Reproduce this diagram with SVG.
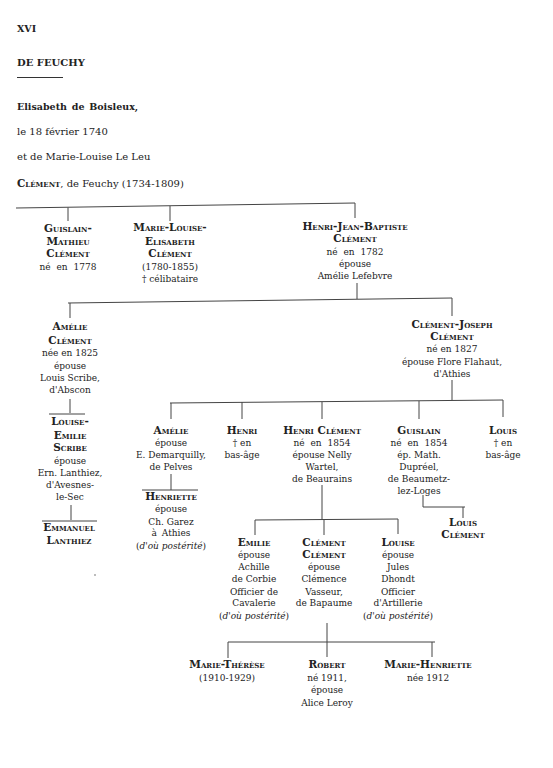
<svg xmlns="http://www.w3.org/2000/svg" width="553" height="768" viewBox="0 0 553 768">
<style>
text{font-family:"DejaVu Serif","Liberation Serif",serif;font-size:9px;fill:#222}
.t text{text-anchor:middle}
.sc{font-variant:small-caps;font-weight:bold;font-size:10.5px}
.hd{font-size:10px}
.b{font-weight:bold}
.i{font-style:italic}
#connectors path{fill:none;stroke:#444;stroke-width:1}
</style>
<rect width="553" height="768" fill="#fff"/>
<g id="header">
<text x="17" y="32" class="b" style="font-size:9.5px">XVI</text>
<text x="17" y="66" class="b" style="font-size:10px">DE FEUCHY</text>
<path d="M17 77.5H63" stroke="#333" stroke-width="1"/>
<text x="17" y="110" class="b" style="font-size:9.5px" word-spacing="1.5">Elisabeth de Boisleux,</text>
<text x="17" y="135" class="hd">le 18 février 1740</text>
<text x="17" y="160" class="hd">et de Marie-Louise Le Leu</text>
<text x="17" y="187" class="hd"><tspan class="sc">Clément</tspan>, de Feuchy (1734-1809)</text>
</g>
<g id="connectors">
<path d="M16 208L355 203M68 207.5V221M170 206V221M355 203V218"/>
<path d="M357 283V299M68 303L452 298M70 303V318M452 298V316"/>
<path d="M70 399V413M49 414H85M71 505V520M42 521H97"/>
<path d="M452 380V400M170 403L503 400M171 403V419M242 402V419M322 402V419M419 401V419M503 400V417"/>
<path d="M171 474V490M142 490H198"/>
<path d="M322 485V519M255 520L398 519M255 520V535M324 520V535M398 519V534"/>
<path d="M423 495V507M423 507H465M463 507V518"/>
<path d="M327 623V642M228 642H435M228 642V658M327 642V657M432 642V657"/>
</g>
<g class="t">
<g id="guislain-mathieu"><text x="68" y="232" class="sc">Guislain-</text><text x="68" y="245" class="sc">Mathieu</text><text x="68" y="257" class="sc">Clément</text><text x="68" y="270" word-spacing="3">né en 1778</text></g>
<g id="marie-louise-elisabeth"><text x="170" y="231" class="sc">Marie-Louise-</text><text x="170" y="245" class="sc">Elisabeth</text><text x="170" y="257" class="sc">Clément</text><text x="170" y="270">(1780-1855)</text><text x="170" y="282">† célibataire</text></g>
<g id="henri-jean-baptiste"><text x="355" y="230" class="sc">Henri-Jean-Baptiste</text><text x="355" y="242" class="sc">Clément</text><text x="355" y="255" word-spacing="3">né en 1782</text><text x="355" y="267">épouse</text><text x="355" y="279">Amélie Lefebvre</text></g>
<g id="amelie-clement"><text x="70" y="330" class="sc">Amélie</text><text x="70" y="344" class="sc">Clément</text><text x="70" y="356">née en 1825</text><text x="70" y="369">épouse</text><text x="70" y="381">Louis Scribe,</text><text x="70" y="393">d'Abscon</text></g>
<g id="louise-emilie-scribe"><text x="70" y="425" class="sc">Louise-</text><text x="70" y="439" class="sc">Emilie</text><text x="70" y="451" class="sc">Scribe</text><text x="70" y="464">épouse</text><text x="70" y="476">Ern. Lanthiez,</text><text x="70" y="488">d'Avesnes-</text><text x="70" y="500">le-Sec</text></g>
<g id="emmanuel-lanthiez"><text x="69" y="531" class="sc">Emmanuel</text><text x="69" y="544" class="sc">Lanthiez</text></g>
<g id="clement-joseph"><text x="452" y="328" class="sc">Clément-Joseph</text><text x="452" y="340" class="sc">Clément</text><text x="452" y="352">né en 1827</text><text x="452" y="365">épouse Flore Flahaut,</text><text x="452" y="377">d'Athies</text></g>
<g id="amelie"><text x="171" y="434" class="sc">Amélie</text><text x="171" y="446">épouse</text><text x="171" y="458">E. Demarquilly,</text><text x="171" y="470">de Pelves</text></g>
<g id="henriette"><text x="171" y="500" class="sc">Henriette</text><text x="171" y="512">épouse</text><text x="171" y="525">Ch. Garez</text><text x="171" y="536" word-spacing="2">à Athies</text><text x="171" y="549">(<tspan class="i">d'où postérité</tspan>)</text></g>
<g id="henri"><text x="242" y="434" class="sc">Henri</text><text x="242" y="446">† en</text><text x="242" y="458">bas-âge</text></g>
<g id="henri-clement"><text x="322" y="434" class="sc">Henri Clément</text><text x="322" y="446" word-spacing="3">né en 1854</text><text x="322" y="458">épouse Nelly</text><text x="322" y="470">Wartel,</text><text x="322" y="482">de Beaurains</text></g>
<g id="guislain"><text x="419" y="434" class="sc">Guislain</text><text x="419" y="446" word-spacing="3">né en 1854</text><text x="419" y="458">ép. Math.</text><text x="419" y="470">Dupréel,</text><text x="419" y="482">de Beaumetz-</text><text x="419" y="494">lez-Loges</text></g>
<g id="louis"><text x="503" y="434" class="sc">Louis</text><text x="503" y="446">† en</text><text x="503" y="458">bas-âge</text></g>
<g id="louis-clement"><text x="463" y="526" class="sc">Louis</text><text x="463" y="538" class="sc">Clément</text></g>
<g id="emilie"><text x="254" y="546" class="sc">Emilie</text><text x="254" y="558">épouse</text><text x="254" y="570">Achille</text><text x="254" y="582">de Corbie</text><text x="254" y="595">Officier de</text><text x="254" y="606">Cavalerie</text><text x="254" y="619">(<tspan class="i">d'où postérité</tspan>)</text></g>
<g id="clement-clement"><text x="324" y="546" class="sc">Clément</text><text x="324" y="558" class="sc">Clément</text><text x="324" y="570">épouse</text><text x="324" y="582">Clémence</text><text x="324" y="595">Vasseur,</text><text x="324" y="606">de Bapaume</text></g>
<g id="louise"><text x="398" y="546" class="sc">Louise</text><text x="398" y="558">épouse</text><text x="398" y="570">Jules</text><text x="398" y="582">Dhondt</text><text x="398" y="595">Officier</text><text x="398" y="606">d'Artillerie</text><text x="398" y="619">(<tspan class="i">d'où postérité</tspan>)</text></g>
<g id="marie-therese"><text x="227" y="668" class="sc">Marie-Thérèse</text><text x="227" y="681">(1910-1929)</text></g>
<g id="robert"><text x="327" y="668" class="sc">Robert</text><text x="327" y="681">né 1911,</text><text x="327" y="693">épouse</text><text x="327" y="706">Alice Leroy</text></g>
<g id="marie-henriette"><text x="428" y="668" class="sc">Marie-Henriette</text><text x="428" y="681">née 1912</text></g>
</g>
<circle cx="95" cy="575" r="0.8" fill="#666"/>
</svg>
